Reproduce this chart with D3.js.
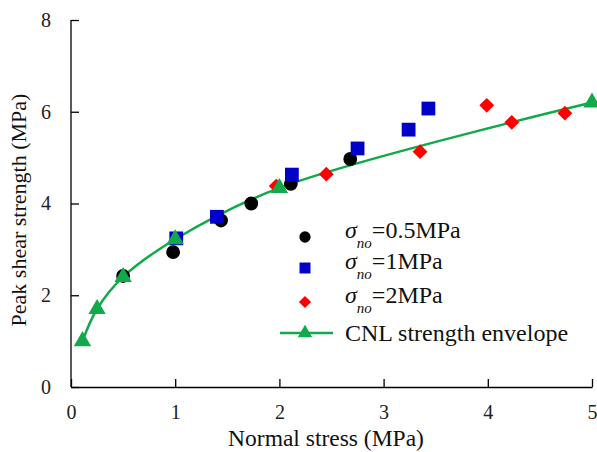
<!DOCTYPE html>
<html>
<head>
<meta charset="utf-8">
<script src="https://cdnjs.cloudflare.com/ajax/libs/d3/7.8.5/d3.min.js"></script>
<style>
  body { margin: 0; background: #fff; }
</style>
</head>
<body>
<script>
// data
var s05x = [0.5, 0.98, 1.44, 1.73, 2.11, 2.68];
var s05y = [2.42, 2.94, 3.63, 4.0, 4.43, 4.97];
var s1x = [1.01, 1.4, 2.12, 2.75, 3.24, 3.43];
var s1y = [3.24, 3.71, 4.63, 5.2, 5.61, 6.07];
var s2x = [1.97, 2.45, 3.35, 3.99, 4.23, 4.74];
var s2y = [4.38, 4.64, 5.13, 6.14, 5.77, 5.97];
var cnlx = [0.11, 0.25, 0.5, 1.0, 2.0, 5.0];
var cnly = [1.0, 1.7, 2.4, 3.22, 4.34, 6.2];
var xticks = [0, 1, 2, 3, 4, 5];
var yticks = [0, 2, 4, 6, 8];
var legendLabels = ["=0.5MPa", "=1MPa", "=2MPa", "CNL strength envelope"];

var FONT = "'Liberation Serif', 'Times New Roman', serif";
var W = 597, H = 452;
var svg = d3.select("body").append("svg").attr("width", W).attr("height", H)
  .attr("font-family", FONT);

var x = d3.scaleLinear().domain([0, 5]).range([71, 592]);
var y = d3.scaleLinear().domain([0, 8]).range([387, 20]);

// axes: left and bottom only, ticks inward
var xAxis = svg.append("g").attr("transform", "translate(0,387)")
  .call(d3.axisBottom(x).tickValues(xticks).tickFormat(d3.format("d")).tickSizeInner(-8).tickSizeOuter(0).tickPadding(18));
var yAxis = svg.append("g").attr("transform", "translate(71,0)")
  .call(d3.axisLeft(y).tickValues(yticks).tickFormat(d3.format("d")).tickSizeInner(-8).tickSizeOuter(0).tickPadding(20));
[xAxis, yAxis].forEach(function(a) {
  a.attr("font-family", FONT);
  a.select(".domain").attr("stroke", "#000").attr("stroke-width", 1.3);
  a.selectAll(".tick line").attr("stroke", "#000").attr("stroke-width", 1.3);
  a.selectAll(".tick text").attr("font-size", 20).attr("fill", "#222");
});
yAxis.select(".domain").attr("d", "M0," + y(8) + "V" + y(0));

svg.append("text").attr("x", 326).attr("y", 446).attr("text-anchor", "middle")
  .attr("font-size", 23.5).attr("fill", "#111").text("Normal stress (MPa)");
svg.append("text").attr("transform", "translate(26,210) rotate(-90)").attr("text-anchor", "middle")
  .attr("font-size", 22).attr("fill", "#111").text("Peak shear strength (MPa)");

var green = "#12a94b";

// envelope curve
var cnl = cnlx.map(function(d, i) { return [d, cnly[i]]; });
svg.append("path").datum(cnl)
  .attr("fill", "none").attr("stroke", green).attr("stroke-width", 2.5)
  .attr("d", d3.line().x(function(d) { return x(d[0]); }).y(function(d) { return y(d[1]); }).curve(d3.curveCatmullRom.alpha(0.5)));

var sym = {
  circle: d3.symbol().type(d3.symbolCircle),
  square: d3.symbol().type(d3.symbolSquare),
  diamond: d3.symbol().type(d3.symbolSquare),
  triangle: d3.symbol().type(d3.symbolTriangle)
};

function drawPts(xs, ys, type, color, size, rot) {
  svg.append("g").selectAll("path").data(xs).enter().append("path")
    .attr("d", sym[type].size(size)())
    .attr("fill", color)
    .attr("transform", function(d, i) { return "translate(" + x(d) + "," + y(ys[i]) + ")" + (rot ? " rotate(45)" : ""); });
}

drawPts(s05x, s05y, "circle", "#000", 150);
drawPts(s1x, s1y, "square", "#0000c8", 190);
drawPts(s2x, s2y, "diamond", "#ff0000", 110, true);
drawPts(cnlx, cnly, "triangle", green, 130);

// legend
var lg = svg.append("g");
var rows = [237, 268, 302, 333];
var colors = ["#000", "#0000c8", "#ff0000", green];
var types = ["circle", "square", "diamond", "triangle"];
var sizes = [100, 120, 75, 90];
rows.forEach(function(ry, i) {
  if (i === 3) {
    lg.append("line").attr("x1", 280).attr("x2", 333).attr("y1", ry).attr("y2", ry)
      .attr("stroke", green).attr("stroke-width", 2.5);
  }
  lg.append("path").attr("d", sym[types[i]].size(sizes[i])()).attr("fill", colors[i])
    .attr("transform", "translate(305," + ry + ")" + (types[i] === "diamond" ? " rotate(45)" : ""));
  var t = lg.append("text").attr("x", 345).attr("font-size", 24).attr("fill", "#111");
  if (i < 3) {
    t.attr("y", ry + 1);
    t.append("tspan").attr("font-style", "italic").text("σ");
    t.append("tspan").attr("font-style", "italic").attr("font-size", 15).attr("dy", 10).text("no");
    t.append("tspan").attr("dy", -10).text(legendLabels[i]);
  } else {
    t.attr("y", ry + 8).text(legendLabels[i]);
  }
});
</script>
</body>
</html>
